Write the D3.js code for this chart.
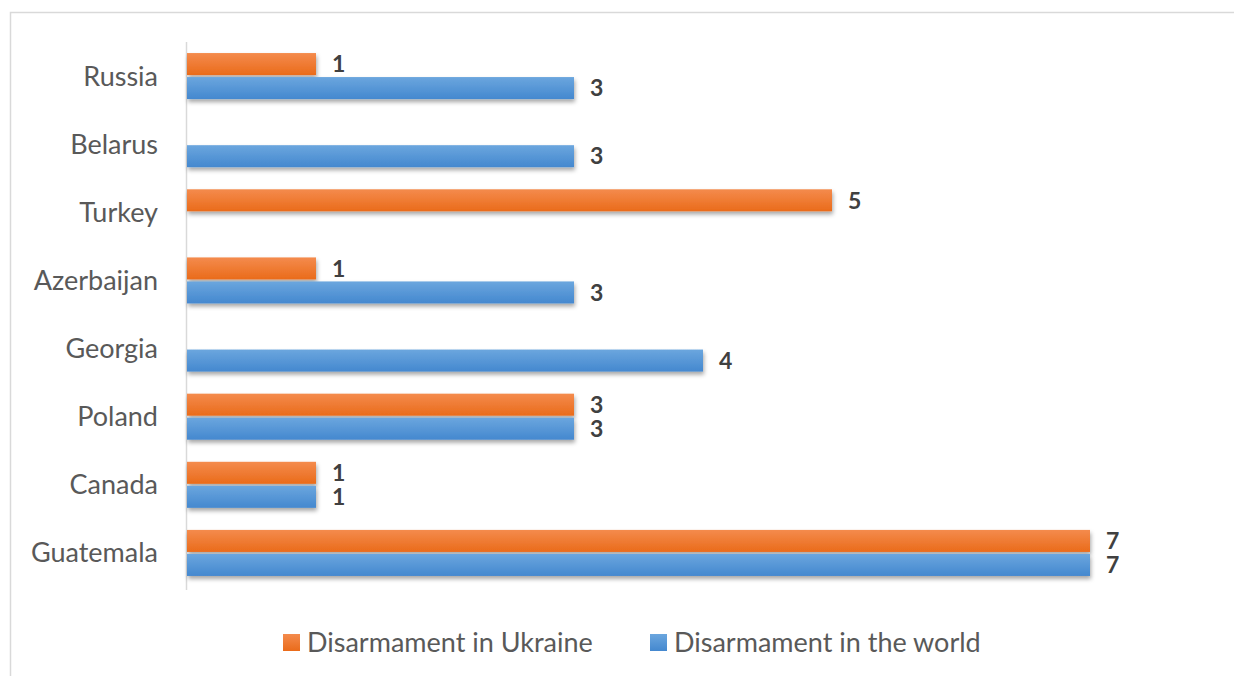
<!DOCTYPE html>
<html>
<head>
<meta charset="utf-8">
<script src="https://cdn.jsdelivr.net/npm/d3@7"></script>
<style>
  body { margin: 0; background: #fff; }
  svg { display: block; }
</style>
</head>
<body>
<div id="chart"></div>
<script>
// data, top to bottom
const countries = ["Russia", "Belarus", "Turkey", "Azerbaijan", "Georgia", "Poland", "Canada", "Guatemala"]
const ukraine = [1, null, 5, 1, null, 3, 1, 7]
const world = [3, 3, null, 3, 4, 3, 1, 7]
const seriesNames = ["Disarmament in Ukraine", "Disarmament in the world"]

const width = 1234, height = 676
const font = "Lato, 'Open Sans', sans-serif"

const svg = d3.select('#chart')
  .append('svg')
  .attr('width', width)
  .attr('height', height)

const defs = svg.append('defs')

function grad(id, top, bottom) {
  const g = defs.append('linearGradient').attr('id', id)
    .attr('x1', 0).attr('y1', 0).attr('x2', 0).attr('y2', 1)
  g.append('stop').attr('offset', '0%').attr('stop-color', top)
  g.append('stop').attr('offset', '100%').attr('stop-color', bottom)
}
grad('gOrange', '#f48b4d', '#ea6b1a')
grad('gBlue', '#6ba6de', '#4488cf')

const shadow = defs.append('filter').attr('id', 'shadow')
  .attr('x', '-5%').attr('y', '-20%').attr('width', '110%').attr('height', '160%')
shadow.append('feDropShadow')
  .attr('dx', 1).attr('dy', 3).attr('stdDeviation', 2)
  .attr('flood-color', '#000').attr('flood-opacity', 0.35)

// chart frame (runs off the right and bottom)
svg.append('rect')
  .attr('x', 10.5).attr('y', 12.5)
  .attr('width', 1400).attr('height', 800)
  .attr('fill', 'none')
  .attr('stroke', '#d9d9d9')
  .attr('stroke-width', 1.5)

const x = d3.scaleLinear().domain([0, 7]).range([187, 1090])
const y = d3.scaleBand().domain(countries).range([42, 587])
const inner = d3.scaleBand().domain([0, 1]).range([0, y.bandwidth()]).paddingOuter(0.46).paddingInner(0.083)

// axis line
svg.append('line')
  .attr('x1', 186.5).attr('x2', 186.5)
  .attr('y1', 42).attr('y2', 590)
  .attr('stroke', '#d9d9d9')
  .attr('stroke-width', 1.5)

// category labels
svg.append('g')
  .selectAll('text')
  .data(countries)
  .join('text')
  .attr('x', 158)
  .attr('y', d => y(d) + y.bandwidth() / 2)
  .attr('dy', '0.35em')
  .attr('text-anchor', 'end')
  .style('font-family', font)
  .style('font-size', '27px')
  .style('fill', '#595959')
  .text(d => d)

const series = [
  { values: ukraine, fill: 'url(#gOrange)', i: 0 },
  { values: world, fill: 'url(#gBlue)', i: 1 }
]

series.forEach(s => {
  const pts = countries.map((c, k) => ({ c: c, v: s.values[k] })).filter(d => d.v != null)
  const g = svg.append('g')
  g.selectAll('rect')
    .data(pts)
    .join('rect')
    .attr('x', x(0))
    .attr('y', d => y(d.c) + inner(s.i))
    .attr('width', d => x(d.v) - x(0))
    .attr('height', inner.bandwidth())
    .attr('fill', s.fill)
    .attr('filter', 'url(#shadow)')
  g.selectAll('text')
    .data(pts)
    .join('text')
    .attr('x', d => x(d.v) + 16)
    .attr('y', d => y(d.c) + inner(s.i) + inner.bandwidth() / 2)
    .attr('dy', '0.36em')
    .style('font-family', font)
    .style('font-size', '23px')
    .style('font-weight', 'bold')
    .style('fill', '#404040')
    .text(d => d.v)
})

// legend
const legend = [
  { name: seriesNames[0], fill: 'url(#gOrange)', x: 283 },
  { name: seriesNames[1], fill: 'url(#gBlue)', x: 650 }
]
const lg = svg.append('g').selectAll('g').data(legend).join('g')
lg.append('rect')
  .attr('x', d => d.x).attr('y', 634)
  .attr('width', 17).attr('height', 17)
  .attr('fill', d => d.fill)
lg.append('text')
  .attr('x', d => d.x + 24)
  .attr('y', 642)
  .attr('dy', '0.36em')
  .style('font-family', font)
  .style('font-size', '27px')
  .style('fill', '#595959')
  .text(d => d.name)
</script>
</body>
</html>
